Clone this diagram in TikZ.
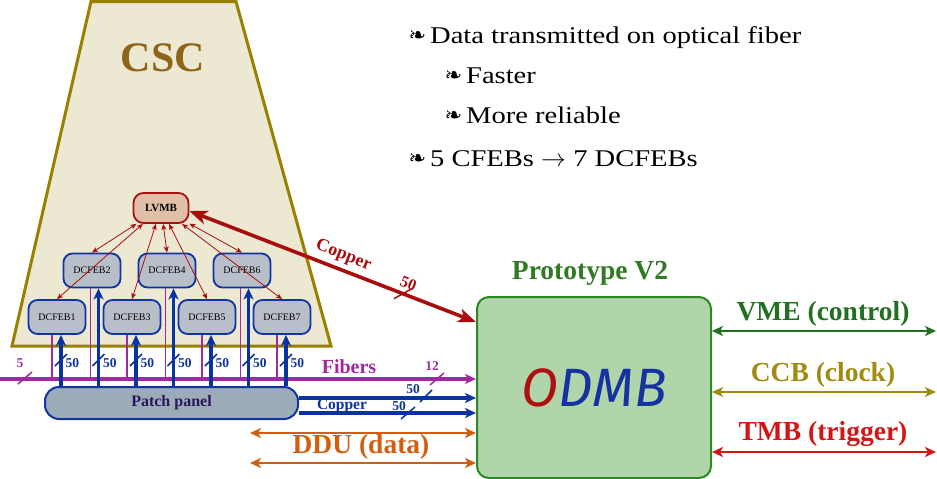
\documentclass[tikz,border=0pt]{standalone}
\usepackage{fontspec}
\setmainfont{Liberation Serif}
\newfontfamily\bulfont{DejaVu Sans}
\newfontfamily\bodyfont{Liberation Serif}[FakeStretch=1.19]
\newfontfamily\odmbfont{Fira Sans}
\usetikzlibrary{positioning,arrows.meta}
\definecolor{cscfill}{RGB}{236,232,210}
\definecolor{cscline}{RGB}{154,128,0}
\definecolor{csctext}{RGB}{142,100,25}
\definecolor{lvfill}{RGB}{225,191,168}
\definecolor{lvline}{RGB}{168,16,16}
\definecolor{febfill}{RGB}{185,191,201}
\definecolor{febline}{RGB}{16,53,160}
\definecolor{fibcol}{RGB}{160,40,160}
\definecolor{cucol}{RGB}{10,50,160}
\definecolor{ppfill}{RGB}{155,172,184}
\definecolor{pptext}{RGB}{42,21,96}
\definecolor{dducol}{RGB}{210,95,16}
\definecolor{odmbfill}{RGB}{176,213,170}
\definecolor{odmbline}{RGB}{42,138,32}
\definecolor{protocol}{RGB}{47,122,34}
\definecolor{vmecol}{RGB}{32,112,32}
\definecolor{ccbcol}{RGB}{160,138,16}
\definecolor{tmbcol}{RGB}{212,21,21}
\definecolor{redcu}{RGB}{168,12,12}
\definecolor{odmbred}{RGB}{175,15,15}
\definecolor{odmbblue}{RGB}{20,50,160}
\newcommand{\bul}{\raisebox{1pt}{\bulfont\fontsize{21}{21}\selectfont ❧}\,}
\begin{document}
\begin{tikzpicture}[x=1pt,y=-1pt,>={Stealth[length=11pt,width=10pt,inset=3pt]},
  feb/.style={draw=febline,fill=febfill,line width=1.8pt,rounded corners=9pt,minimum width=57pt,minimum height=34pt,inner sep=0pt,font=\fontsize{10}{10}\selectfont},
  lbl/.style={font=\bfseries\fontsize{27.5}{27.5}\selectfont},
  small/.style={font=\bfseries\fontsize{13.5}{13.5}\selectfont},
  tick/.style={line width=1.5pt},
  thin arrow/.style={line width=0.8pt, >={Stealth[length=6pt,width=5pt,inset=1.5pt]}}]
\useasboundingbox (0,0) rectangle (937,479);
% chamber
\draw[draw=cscline, fill=cscfill, line width=3pt] (91,1.5) -- (236,1.5) -- (331,346) -- (12,346) -- cycle;
\node[text=csctext, font=\bfseries\fontsize{42}{42}\selectfont] (csc) at (163,58) {CSC};
% bullets
\node[anchor=base west, font=\bodyfont\fontsize{24}{24}\selectfont] (b1) at (405,43) {\bul Data transmitted on optical fiber};
\node[anchor=base west, font=\bodyfont\fontsize{24}{24}\selectfont] (b2) at (441,83) {\bul Faster};
\node[anchor=base west, font=\bodyfont\fontsize{24}{24}\selectfont] (b3) at (441,123) {\bul More reliable};
\node[anchor=base west, font=\bodyfont\fontsize{24}{24}\selectfont] (b4) at (405,166) {\bul 5 CFEBs $\rightarrow$ 7 DCFEBs};
% odmb
\node[draw=odmbline, fill=odmbfill, line width=2pt, rounded corners=12pt, minimum width=234pt, minimum height=181pt, font=\odmbfont\itshape\fontsize{54}{54}\selectfont] (odmb) at (594,387.5) {\textcolor{odmbred}{O}\textcolor{odmbblue}{DMB}};
\node[lbl, text=protocol] (proto) at (590,273) {Prototype V2};
% patch panel and fibers
\node[draw=febline, fill=ppfill, line width=2pt, rounded corners=14pt, minimum width=253pt, minimum height=32pt, text=pptext, font=\bfseries\fontsize{16}{16}\selectfont] (pp) at (171.5,403) {Patch panel};
\coordinate (fibL) at (0,379);
\draw[fibcol, line width=3.4pt, ->] (fibL) -- (odmb.west |- fibL);
\node[small, text=fibcol] (n5) at (20,363) {5};
\draw[fibcol, tick] (25,378) ++(-7,6) -- ++(14,-12);
\node[text=fibcol, font=\bfseries\fontsize{20}{20}\selectfont] (fibers) at (349,367) {Fibers};
\node[small, text=fibcol] (n12) at (432,366) {12};
\draw[fibcol, tick] (437,379) ++(-7,6) -- ++(14,-12);
% dcfebs
\node[draw=lvline, fill=lvfill, line width=1.8pt, rounded corners=10pt, minimum width=55pt, minimum height=30pt, font=\bfseries\fontsize{11}{11}\selectfont] (lvmb) at (161,208) {LVMB};
\foreach \i/\x/\y/\m/\b in {1/57/317/-5/4, 2/92/270.5/-1.5/6.5, 3/132/317/-5/4, 4/167/270.5/-1.5/6.5, 5/207/317/-5/4, 6/242/270.5/-1.5/6.5, 7/282/317/-5/4}{
  \node[feb] (d\i) at (\x,\y) {DCFEB\i};
  \draw[fibcol, line width=1.6pt] ([xshift=\m pt]d\i.south) -- ([xshift=\m pt]d\i.south |- fibL);
  \draw[cucol, line width=3.2pt, ->] ([xshift=\b pt]d\i.south |- pp.north) -- ([xshift=\b pt]d\i.south);
  \draw[cucol, tick] ([xshift=\b pt]d\i.south |- 0,360) ++(-6,6) -- ++(12,-12);
  \node[small, text=cucol, anchor=west] (l\i) at ([xshift=\b pt+1pt]d\i.south |- 0,363) {50};
}
\foreach \i in {1,...,7}
  \draw[lvline, thin arrow, <->] (lvmb) -- (d\i.north);
% copper to odmb
\draw[redcu, line width=3.6pt, >={Stealth[length=18pt,width=14pt,inset=5pt]}, <->] ([yshift=-3pt]lvmb.east) -- ([yshift=-26pt]odmb.north west)
  node[pos=0.52, above=1pt, sloped, font=\bfseries\fontsize{18}{18}\selectfont] (cur) {Copper}
  node[pos=0.75, above=1pt, sloped, font=\bfseries\fontsize{16}{16}\selectfont] (cu50) {50}
  coordinate[pos=0.745] (cut);
\draw[redcu, tick] (cut) ++(-9,5) -- ++(18,-10);
\coordinate (cuA) at (0,398);
\coordinate (cuB) at (0,413);
\draw[cucol, line width=3.2pt, ->] (pp.east |- cuA) -- (odmb.west |- cuA);
\draw[cucol, line width=3.2pt, ->] (pp.east |- cuB) -- (odmb.west |- cuB);
\node[text=cucol, font=\bfseries\fontsize{15.5}{15.5}\selectfont] (cuN) at (342,406) {Copper};
\node[small, text=cucol] (c50a) at (413,389) {50};
\draw[cucol, tick] (426,396) ++(-6,6) -- ++(12,-12);
\node[small, text=cucol] (c50b) at (399,406) {50};
\draw[cucol, tick] (408,413) ++(-7,6) -- ++(14,-12);
% ddu
\coordinate (ddA) at (250,433);
\coordinate (ddB) at (250,463);
\draw[dducol, line width=2.6pt, <->] (ddA) -- (odmb.west |- ddA);
\draw[dducol, line width=2.6pt, <->] (ddB) -- (odmb.west |- ddB);
\node[lbl, text=dducol] (ddu) at (361,447) {DDU (data)};
% right side
\coordinate (vmeR) at (936,331);
\coordinate (ccbR) at (936,392);
\coordinate (tmbR) at (936,452);
\draw[vmecol, line width=2.6pt, <->] (odmb.east |- vmeR) -- (vmeR);
\draw[ccbcol, line width=2.6pt, <->] (odmb.east |- ccbR) -- (ccbR);
\draw[tmbcol, line width=2.6pt, <->] (odmb.east |- tmbR) -- (tmbR);
\node[lbl, text=vmecol] (vme) at (823,314) {VME (control)};
\node[lbl, text=ccbcol] (ccb) at (823,375) {CCB (clock)};
\node[lbl, text=tmbcol] (tmb) at (823,434) {TMB (trigger)};
\end{tikzpicture}
\end{document}
